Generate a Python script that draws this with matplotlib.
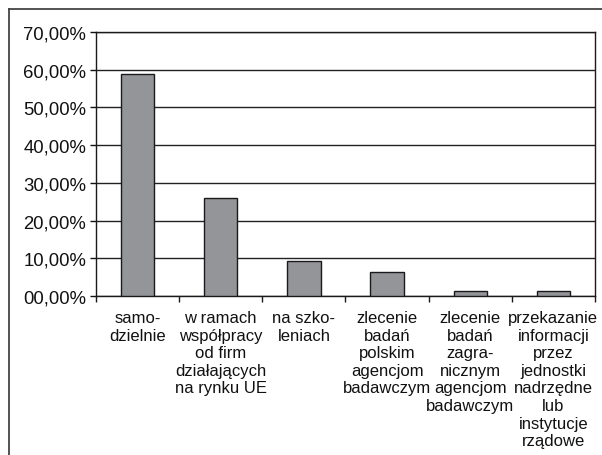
import matplotlib.pyplot as plt
from matplotlib.lines import Line2D
from matplotlib.ticker import FuncFormatter

plt.rcParams['font.family'] = ['Liberation Sans', 'DejaVu Sans']

# Share of answers per source of information (%)
categories: list[str] = [
    "samo-\ndzielnie",
    "w ramach\nwspółpracy\nod firm\ndziałających\nna rynku UE",
    "na szko-\nleniach",
    "zlecenie\nbadań\npolskim\nagencjom\nbadawczym",
    "zlecenie\nbadań\nzagra-\nnicznym\nagencjom\nbadawczym",
    "przekazanie\ninformacji\nprzez\njednostki\nnadrzędne\nlub\ninstytucje\nrządowe",
]
values: list[float] = [58.8, 26.1, 9.2, 6.3, 1.3, 1.3]
y_ticks: list[float] = [0, 10, 20, 30, 40, 50, 60, 70]

W, H = 602, 456
fig = plt.figure(figsize=(W / 100, H / 100), dpi=100)
ax = fig.add_axes([96 / W, 1 - 297 / H, (595 - 96) / W, (297 - 33) / H])

xs = list(range(len(categories)))
ax.bar(xs, values, width=0.4, color="#939598", edgecolor="#1a1a1a", linewidth=1.0, zorder=3)

ax.set_xlim(-0.5, len(categories) - 0.5)
ax.set_ylim(0, 70)
ax.set_yticks(y_ticks)
ax.yaxis.set_major_formatter(FuncFormatter(lambda v, _: f"{int(v):02d},00%"))
ax.yaxis.grid(True, color="#222222", linewidth=1.0, zorder=1)

# category labels at centers, tick marks between categories
ax.set_xticks(xs)
ax.set_xticklabels(categories, fontsize=12, linespacing=1.22, va="top", ha="center")
ax.set_xticks([x + 0.5 for x in xs[:-1]] + [-0.5, len(categories) - 0.5], minor=True)
ax.tick_params(axis="x", which="major", length=0, pad=10, colors="#111111")
ax.tick_params(axis="x", which="minor", length=4, width=1, direction="out", color="#1a1a1a")
ax.tick_params(axis="y", length=4, width=1, direction="out", pad=3, labelsize=13.3,
               colors="#111111")

for s in ax.spines.values():
    s.set_color("#1a1a1a")
    s.set_linewidth(1.0)

# outer frame lines (top and left)
fig.add_artist(Line2D([8.5 / W, 1], [1 - 9.5 / H, 1 - 9.5 / H], color="#444444",
                      linewidth=1.3, transform=fig.transFigure))
fig.add_artist(Line2D([8.5 / W, 8.5 / W], [0, 1 - 9.5 / H], color="#444444",
                      linewidth=1.3, transform=fig.transFigure))

fig.savefig("out.png", dpi=100)
